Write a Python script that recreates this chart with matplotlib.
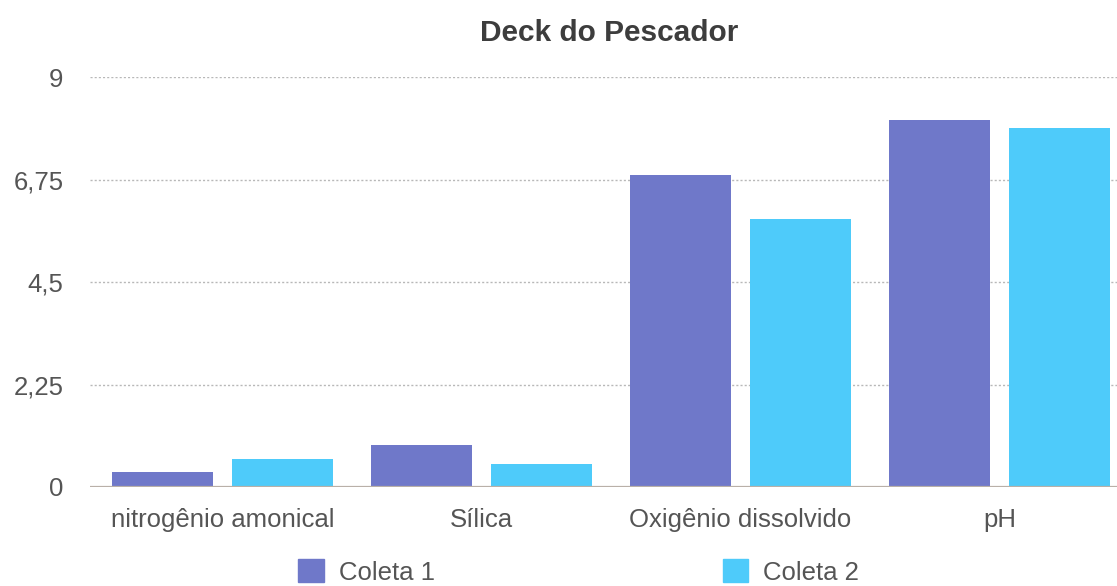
import numpy as np
import matplotlib
matplotlib.use('Agg')
from matplotlib import pyplot as plt
from matplotlib.patches import Patch

plt.rcParams['font.family'] = ['Liberation Sans', 'DejaVu Sans']

####

categories = ['nitrogênio amonical', 'Sílica', 'Oxigênio dissolvido', 'pH']
coleta1 = [0.32, 0.92, 6.84, 8.05]
coleta2 = [0.62, 0.50, 5.89, 7.87]
yticks = [0, 2.25, 4.5, 6.75, 9]
ytick_labels = ['0', '2,25', '4,5', '6,75', '9']

c1_color = '#6F78C9'
c2_color = '#4ECBFA'
text_color = '#555555'

####

fig = plt.figure(figsize=(11.17, 5.86), dpi=100)
# axes spans pixel x 90..1117, y 77..487 (right side cut off like the original)
ax = fig.add_axes([90 / 1117, 1 - 487 / 586, 1027 / 1117, 410 / 586])

x = np.arange(len(categories))
w = 0.392
off = 0.232
ax.bar(x - off, coleta1, w, color=c1_color, zorder=3)
ax.bar(x + off, coleta2, w, color=c2_color, zorder=3)

ax.set_xlim(-0.512, 3.454)
ax.set_ylim(0, 9)
ax.set_yticks(yticks)
ax.set_yticklabels(ytick_labels)
ax.set_xticks(x)
ax.set_xticklabels(categories)

for t in yticks[1:]:
  ax.axhline(t, color='#b8b8b8', lw=1, ls=(0, (1.5, 1.5)), zorder=1)
ax.axhline(0, color='#b9b0a8', lw=1.6, zorder=4)

for s in ax.spines.values():
  s.set_visible(False)
ax.tick_params(axis='both', length=0, labelsize=18.5, colors=text_color)
ax.tick_params(axis='y', pad=19)
ax.tick_params(axis='x', pad=15)

fig.text(0.545, 0.944, 'Deck do Pescador', ha='center', va='center',
         fontsize=21.5, fontweight='bold', color='#3d3d3d')

handles = [Patch(color=c1_color, label='Coleta 1'),
           Patch(color=c2_color, label='Coleta 2')]
leg = fig.legend(handles=handles, loc='center', bbox_to_anchor=(0.518, 0.024),
                 ncol=2, frameon=False, fontsize=18.5, handlelength=1.0,
                 handleheight=1.0, handletextpad=0.58, columnspacing=11.2,
                 borderpad=0, borderaxespad=0)
for t in leg.get_texts():
  t.set_color(text_color)

fig.savefig('out.png', dpi=100)
